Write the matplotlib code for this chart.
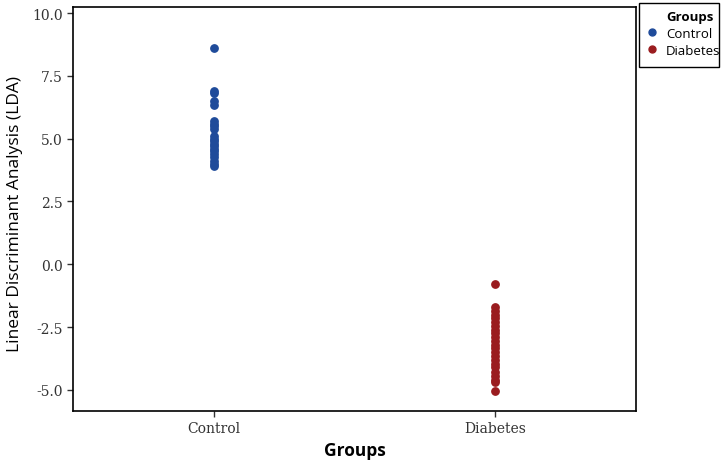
import matplotlib.pyplot as plt
from matplotlib.lines import Line2D
from matplotlib.patches import Rectangle

groups = ["Control", "Diabetes"]
control_lda = [8.6, 6.9, 6.8, 6.5, 6.35, 5.7, 5.6, 5.5, 5.4, 5.1, 5.0, 4.9,
               4.8, 4.7, 4.6, 4.5, 4.4, 4.25, 4.1, 4.0, 3.9]
diabetes_lda = [-0.8, -1.7, -1.85, -2.0, -2.15, -2.3, -2.45, -2.6, -2.75, -2.9,
                -3.05, -3.2, -3.35, -3.5, -3.65, -3.8, -3.95, -4.1, -4.3, -4.45,
                -4.6, -4.7, -5.05]
yticks = [10.0, 7.5, 5.0, 2.5, 0.0, -2.5, -5.0]
ytick_labels = ["10.0", "7.5", "5.0", "2.5", "0.0", "-2.5", "-5.0"]

blue = "#1f4b9a"
red = "#9a1c1f"
W, H = 722, 464

fig = plt.figure(figsize=(7.22, 4.64), dpi=100)
ax = fig.add_axes([73/W, 52/H, 563/W, 404/H])

ax.scatter([1]*len(control_lda), control_lda, s=28, color=blue, zorder=3)
ax.scatter([2]*len(diabetes_lda), diabetes_lda, s=28, color=red, zorder=3)

ax.set_xlim(0.5, 2.5)
ax.set_ylim(-5.84, 10.24)
ax.set_xticks([1, 2])
ax.set_xticklabels(groups, family="DejaVu Serif", fontsize=10, color="#333333")
ax.set_yticks(yticks)
ax.set_yticklabels(ytick_labels, family="DejaVu Serif", fontsize=10, color="#333333")
ax.tick_params(direction="out", length=4, width=1, color="#333333")

for s in ax.spines.values():
    s.set_linewidth(1.2)
    s.set_color("black")

ax.set_xlabel("Groups", family="Open Sans", fontsize=12.5, fontweight="bold", labelpad=4)
ax.set_ylabel("Linear Discriminant Analysis (LDA)", family="Open Sans", fontsize=12.5)
ax.yaxis.set_label_coords(-0.088, 0.49)

# legend: frame + title drawn by hand, entries from fig.legend
fig.add_artist(Rectangle((639/W, 1 - 68/H), 80/W, 64/H, transform=fig.transFigure,
                         fill=False, edgecolor="black", linewidth=1.0))
fig.text(666/W, 1 - 17/H, "Groups", family="Open Sans", fontsize=9.5,
         fontweight="bold", va="center", ha="left")
handles = [Line2D([], [], marker="o", linestyle="", color=blue, markersize=5),
           Line2D([], [], marker="o", linestyle="", color=red, markersize=5)]
fig.legend(handles, groups, loc="upper left", bbox_to_anchor=(645/W, 1 - 28/H),
           frameon=False, prop={"family": "Open Sans", "size": 9.5},
           handletextpad=0.58, handlelength=1.0, labelspacing=0.3,
           borderpad=0.0, borderaxespad=0.0)

fig.savefig("out.png", dpi=100)
